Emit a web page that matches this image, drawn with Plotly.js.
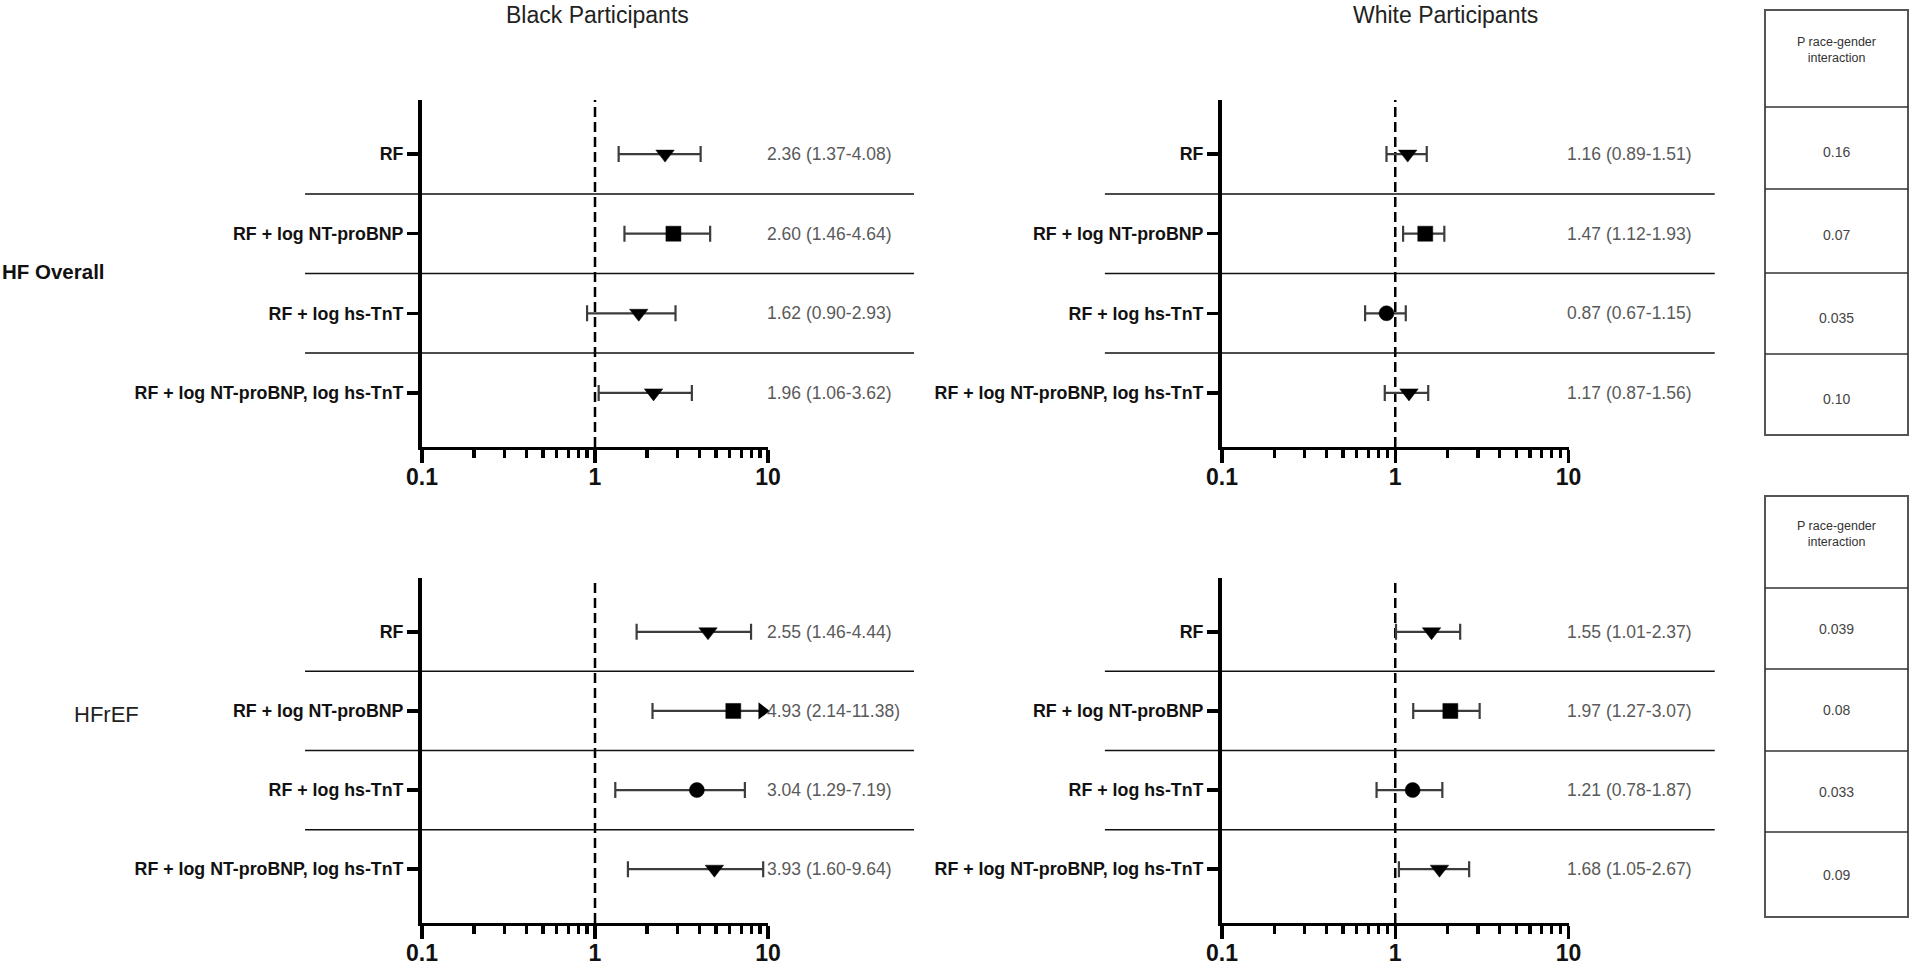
<!DOCTYPE html>
<html><head><meta charset="utf-8">
<script src="https://cdn.plot.ly/plotly-3.0.1.min.js"></script>
<style>html,body{margin:0;padding:0;background:#fff}#chart{width:1912px;height:968px}</style>
</head><body><div id="chart"></div>
<script>
// ---------- data ----------
const rowLabels = ["RF", "RF + log NT-proBNP", "RF + log hs-TnT", "RF + log NT-proBNP, log hs-TnT"];
const panelTitles = ["Black Participants", "White Participants"];
const outcomeLabels = ["HF Overall", "HFrEF"];
const pHeader = "P race-gender<br>interaction";

// Black participants, HF overall
const blackHF_hr  = [2.54, 2.84, 1.79, 2.18];
const blackHF_lo  = [1.37, 1.48, 0.90, 1.05];
const blackHF_hi  = [4.08, 4.63, 2.92, 3.63];
const blackHF_sym = ["triangle-down", "square", "triangle-down", "triangle-down"];
const blackHF_txt = ["2.36 (1.37-4.08)", "2.60 (1.46-4.64)", "1.62 (0.90-2.93)", "1.96 (1.06-3.62)"];

// White participants, HF overall
const whiteHF_hr  = [1.18, 1.49, 0.89, 1.20];
const whiteHF_lo  = [0.89, 1.11, 0.67, 0.87];
const whiteHF_hi  = [1.52, 1.92, 1.15, 1.55];
const whiteHF_sym = ["triangle-down", "square", "circle", "triangle-down"];
const whiteHF_txt = ["1.16 (0.89-1.51)", "1.47 (1.12-1.93)", "0.87 (0.67-1.15)", "1.17 (0.87-1.56)"];

// Black participants, HFrEF
const blackEF_hr  = [4.5, 6.3, 3.88, 4.9];
const blackEF_lo  = [1.74, 2.15, 1.31, 1.55];
const blackEF_hi  = [7.98, 11.38, 7.35, 9.38];
const blackEF_sym = ["triangle-down", "square", "circle", "triangle-down"];
const blackEF_txt = ["2.55 (1.46-4.44)", "4.93 (2.14-11.38)", "3.04 (1.29-7.19)", "3.93 (1.60-9.64)"];

// White participants, HFrEF
const whiteEF_hr  = [1.62, 2.08, 1.26, 1.80];
const whiteEF_lo  = [1.01, 1.27, 0.78, 1.05];
const whiteEF_hi  = [2.37, 3.07, 1.87, 2.67];
const whiteEF_sym = ["triangle-down", "square", "circle", "triangle-down"];
const whiteEF_txt = ["1.55 (1.01-2.37)", "1.97 (1.27-3.07)", "1.21 (0.78-1.87)", "1.68 (1.05-2.67)"];

// P race-gender interaction
const pHF = ["0.16", "0.07", "0.035", "0.10"];
const pEF = ["0.039", "0.08", "0.033", "0.09"];

const xMin = 0.1, xMax = 10;

// ---------- layout helpers ----------
const W = 1912, H = 968;
const FONT = "Liberation Sans, Arial, Helvetica, sans-serif";
const px = v => v / W;
const py = v => 1 - v / H;

const panels = [
  {hr: blackHF_hr, lo: blackHF_lo, hi: blackHF_hi, sym: blackHF_sym, txt: blackHF_txt, xa: "x",  ya: "y"},
  {hr: whiteHF_hr, lo: whiteHF_lo, hi: whiteHF_hi, sym: whiteHF_sym, txt: whiteHF_txt, xa: "x2", ya: "y2"},
  {hr: blackEF_hr, lo: blackEF_lo, hi: blackEF_hi, sym: blackEF_sym, txt: blackEF_txt, xa: "x3", ya: "y3"},
  {hr: whiteEF_hr, lo: whiteEF_lo, hi: whiteEF_hi, sym: whiteEF_sym, txt: whiteEF_txt, xa: "x4", ya: "y4"}
];

const symSize = {"triangle-down": 16, "square": 15, "circle": 15};
const rowIdx = rowLabels.map((_, i) => i);
const traces = [];
const shapes = [];
const annotations = [];

panels.forEach(p => {
  // confidence intervals (error bars), drawn first
  traces.push({
    type: "scatter", mode: "markers",
    x: p.hr, y: rowIdx, xaxis: p.xa, yaxis: p.ya,
    marker: {size: 2, opacity: 0},
    error_x: {
      type: "data", symmetric: false,
      array: p.hi.map((h, i) => h - p.hr[i]),
      arrayminus: p.lo.map((l, i) => p.hr[i] - l),
      color: "#3c3c3c", thickness: 2.2, width: 8
    },
    showlegend: false, hoverinfo: "skip"
  });
  // point estimates on top
  traces.push({
    type: "scatter", mode: "markers",
    x: p.hr, y: rowIdx, xaxis: p.xa, yaxis: p.ya,
    marker: {symbol: p.sym, size: p.sym.map(s => symSize[s]), color: "#000", opacity: 1,
             line: {width: 0.5, color: "#000"}},
    showlegend: false, hoverinfo: "skip"
  });
  // arrow where the upper limit runs past the axis
  const ax = [], ay = [];
  p.hi.forEach((h, i) => { if (h > xMax) { ax.push(xMax / 1.08); ay.push(i); } });
  if (ax.length) {
    traces.push({
      type: "scatter", mode: "markers", x: ax, y: ay, xaxis: p.xa, yaxis: p.ya,
      marker: {symbol: "triangle-right", size: 15, color: "#000"},
      cliponaxis: false, showlegend: false, hoverinfo: "skip"
    });
  }
  // reference line at HR = 1
  shapes.push({type: "line", layer: "below", xref: p.xa, yref: p.ya + " domain",
    x0: 1, x1: 1, y0: 0, y1: 1, line: {color: "#000", width: 2.5, dash: "10px,5px"}});
  // row separators
  [0.5, 1.5, 2.5].forEach(s => shapes.push({type: "line", layer: "below",
    xref: p.xa + " domain", yref: p.ya, x0: -0.338, x1: 1.422, y0: s, y1: s,
    line: {color: "#111", width: 1.5}}));
  // HR (95% CI) text
  p.txt.forEach((t, i) => annotations.push({
    xref: p.xa + " domain", yref: p.ya, x: 0.99, y: i, xanchor: "left", yanchor: "middle",
    text: t, showarrow: false, font: {family: FONT, size: 17.5, color: "#5a5a5a"}
  }));
});

// P-value tables (pixel positions of the table grid)
function table(top, headBottom, lines, bottom, vals, shift) {
  const x0 = px(1765), x1 = px(1908);
  shapes.push({type: "rect", xref: "paper", yref: "paper", x0: x0, x1: x1, y0: py(top), y1: py(bottom),
    line: {color: "#555", width: 2}});
  [headBottom].concat(lines).forEach(s => shapes.push({type: "line", xref: "paper", yref: "paper",
    x0: x0, x1: x1, y0: py(s), y1: py(s), line: {color: "#333", width: 1.5}}));
  annotations.push({xref: "paper", yref: "paper", x: (x0 + x1) / 2, y: py((top + headBottom) / 2 - 8),
    text: pHeader, showarrow: false, align: "center", xanchor: "center", yanchor: "middle",
    font: {family: FONT, size: 12.5, color: "#333"}});
  const edges = [headBottom].concat(lines, [bottom]);
  vals.forEach((v, i) => annotations.push({xref: "paper", yref: "paper", x: (x0 + x1) / 2,
    y: py((edges[i] + edges[i + 1]) / 2 + shift), xanchor: "center", yanchor: "middle",
    text: v, showarrow: false, font: {family: FONT, size: 14, color: "#444"}}));
}
table(10, 107, [189, 273, 354], 435, pHF, 4);
table(496, 588, [669, 751, 832], 917, pEF, 0);

// panel titles and outcome labels
annotations.push({xref: "paper", yref: "paper", x: px(597), y: py(15), text: panelTitles[0],
  showarrow: false, xanchor: "center", yanchor: "middle", font: {family: FONT, size: 23, color: "#222"}});
annotations.push({xref: "paper", yref: "paper", x: px(1445), y: py(15), text: panelTitles[1],
  showarrow: false, xanchor: "center", yanchor: "middle", font: {family: FONT, size: 23, color: "#222"}});
annotations.push({xref: "paper", yref: "paper", x: 0, y: py(272), text: outcomeLabels[0],
  showarrow: false, xanchor: "left", yanchor: "middle", font: {family: FONT, size: 20.5, color: "#111", weight: "bold"}});
annotations.push({xref: "paper", yref: "paper", x: px(72), y: py(714), text: outcomeLabels[1],
  showarrow: false, xanchor: "left", yanchor: "middle", font: {family: FONT, size: 22, color: "#222"}});

function xAxis(dom, anchor) {
  return {
    type: "log", domain: dom, anchor: anchor, range: [Math.log10(xMin), Math.log10(xMax)],
    dtick: 1, showgrid: false, zeroline: false,
    showline: true, linecolor: "#000", linewidth: 2.5,
    ticks: "outside", ticklen: 13, tickwidth: 3.5, tickcolor: "#000",
    ticklabelstandoff: -5,
    tickfont: {family: FONT, size: 23, color: "#111", weight: "bold"},
    minor: {ticks: "outside", ticklen: 8, tickwidth: 3.2, tickcolor: "#000", dtick: "D1", showgrid: false},
    fixedrange: true
  };
}
function yAxis(dom, anchor) {
  return {
    domain: dom, anchor: anchor, range: [3.68, -0.68],
    tickmode: "array", tickvals: rowIdx, ticktext: rowLabels,
    showgrid: false, zeroline: false,
    showline: true, linecolor: "#000", linewidth: 4,
    ticks: "outside", ticklen: 11, tickwidth: 3.5, tickcolor: "#000",
    tickfont: {family: FONT, size: 17.8, color: "#111", weight: "bold"},
    fixedrange: true
  };
}
const xBlack = [px(422), px(768)], xWhite = [px(1222), px(1568.5)];
const yTop = [py(447), py(100)], yBot = [py(923), py(578)];

const layout = {
  width: W, height: H, margin: {l: 0, r: 0, t: 0, b: 0},
  paper_bgcolor: "#fff", plot_bgcolor: "rgba(0,0,0,0)",
  showlegend: false,
  xaxis: xAxis(xBlack, "y"), yaxis: yAxis(yTop, "x"),
  xaxis2: xAxis(xWhite, "y2"), yaxis2: yAxis(yTop, "x2"),
  xaxis3: xAxis(xBlack, "y3"), yaxis3: yAxis(yBot, "x3"),
  xaxis4: xAxis(xWhite, "y4"), yaxis4: yAxis(yBot, "x4"),
  shapes: shapes, annotations: annotations
};

Plotly.newPlot("chart", traces, layout, {staticPlot: true, displayModeBar: false});
</script>
</body></html>
